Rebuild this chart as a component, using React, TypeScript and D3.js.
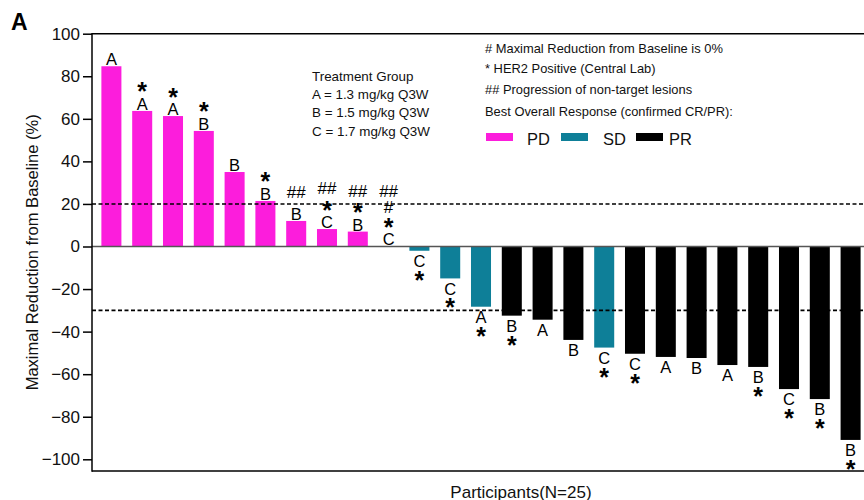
import React from 'react';
import * as d3 from 'd3';

// chart data
const participants = d3.range(1, 26).map((i) => `P${i}`);
const reduction = [
  84.7, 63.7, 61.3, 54.3, 35, 21.4, 12, 8.2, 7, 0, -2, -15, -28.3, -32.5, -34.4,
  -43.9, -47.5, -50.4, -51.9, -52.4, -55.7, -56.6, -67, -71.7, -90.9,
];
const response = [
  'PD', 'PD', 'PD', 'PD', 'PD', 'PD', 'PD', 'PD', 'PD', 'PD', 'SD', 'SD', 'SD',
  'PR', 'PR', 'PR', 'SD', 'PR', 'PR', 'PR', 'PR', 'PR', 'PR', 'PR', 'PR',
];
const group = [
  'A', 'A', 'A', 'B', 'B', 'B', 'B', 'C', 'B', 'C', 'C', 'C', 'A', 'B', 'A',
  'B', 'C', 'C', 'A', 'B', 'A', 'B', 'C', 'B', 'B',
];
const her2 = [0, 1, 1, 1, 0, 1, 0, 1, 1, 1, 1, 1, 1, 1, 0, 0, 1, 1, 0, 0, 0, 1, 1, 1, 1];
const zeroReduction = [0, 0, 0, 0, 0, 0, 0, 0, 0, 1, 0, 0, 0, 0, 0, 0, 0, 0, 0, 0, 0, 0, 0, 0, 0];
const nonTargetProgression = [0, 0, 0, 0, 0, 0, 1, 1, 1, 1, 0, 0, 0, 0, 0, 0, 0, 0, 0, 0, 0, 0, 0, 0, 0];
const yTicks = [100, 80, 60, 40, 20, 0, -20, -40, -60, -80, -100];
const thresholds = [20, -30];
const responseTypes = ['PD', 'SD', 'PR'];
const responseColors = ['#fc1ddc', '#0e7f98', '#000000'];
const treatmentLines = [
  'Treatment Group',
  'A = 1.3 mg/kg Q3W',
  'B = 1.5 mg/kg Q3W',
  'C = 1.7 mg/kg Q3W',
];
const noteLines = [
  '# Maximal Reduction from Baseline is 0%',
  '* HER2 Positive (Central Lab)',
  '## Progression of non-target lesions',
  'Best Overall Response (confirmed CR/PR):',
];

const W = 864;
const H = 500;
const font = 'Arial, "Liberation Sans", sans-serif';

export default function App() {
  const left = 92;
  const top = 33.7;
  const bottom = 471;
  const right = 866;

  const x = d3.scaleBand().domain(participants).range([96, right]).paddingInner(0.35).paddingOuter(0.175);
  const y = d3.scaleLinear().domain([-105.5, 100]).range([bottom, top]);
  const color = d3.scaleOrdinal<string, string>().domain(responseTypes).range(responseColors);

  const axisRef = React.useRef<SVGGElement>(null);
  React.useEffect(() => {
    const g = d3.select(axisRef.current);
    g.selectAll('*').remove();
    g.call(d3.axisLeft(y).tickValues(yTicks).tickSize(9).tickPadding(3).tickSizeOuter(0) as any);
    g.select('.domain').remove();
    g.selectAll('.tick line').attr('stroke', '#000').attr('stroke-width', 1.5);
    g.selectAll('.tick text')
      .attr('font-family', font)
      .attr('font-size', 17)
      .attr('fill', '#111');
  }, []);

  const letterSize = 16.5;
  const starSize = 25;
  const hashSize = 17;

  const labels = participants.map((p, i) => {
    const v = reduction[i];
    const cx = (x(p) as number) + x.bandwidth() / 2;
    const items: { t: string; cy: number; kind: string }[] = [];
    if (v >= 0) {
      let c = y(v) - 7;
      items.push({ t: group[i], cy: c, kind: 'letter' });
      if (her2[i]) {
        c -= 17.5;
        items.push({ t: '*', cy: c, kind: 'star' });
      }
      if (zeroReduction[i]) {
        c -= 15;
        items.push({ t: '#', cy: c, kind: 'hash' });
      }
      if (nonTargetProgression[i]) {
        c -= i === 6 ? 22 : 16.5;
        items.push({ t: '##', cy: c, kind: 'hash' });
      }
    } else {
      let c = y(v) + 10.5;
      items.push({ t: group[i], cy: c, kind: 'letter' });
      if (her2[i]) {
        c += 13.5;
        items.push({ t: '*', cy: c, kind: 'star' });
      }
    }
    return items.map((it, k) => {
      let size = letterSize;
      let base = it.cy + letterSize * 0.358;
      let weight = 'normal';
      if (it.kind === 'star') {
        size = starSize;
        base = it.cy + starSize * 0.56;
        weight = 'bold';
      } else if (it.kind === 'hash') {
        size = hashSize;
        base = it.cy + hashSize * 0.36;
      }
      return (
        <text
          key={`${p}-${k}`}
          x={cx}
          y={base}
          textAnchor="middle"
          fontSize={size}
          fontWeight={weight}
          fontFamily={font}
          fill="#000"
        >
          {it.t}
        </text>
      );
    });
  });

  const swatchX = [486, 561, 636];
  const swatchLabelX = [527, 603, 669];

  return (
    <svg
      width={W}
      height={H}
      style={{ position: 'absolute', left: 0, top: 0, background: '#fff' }}
      fontFamily={font}
    >
      <text x={11} y={30} fontSize={23} fontWeight="bold">A</text>

      {/* bars */}
      {participants.map((p, i) => {
        const v = reduction[i];
        return (
          <rect
            key={p}
            x={x(p)}
            y={Math.min(y(v), y(0))}
            width={x.bandwidth()}
            height={Math.abs(y(v) - y(0))}
            fill={color(response[i])}
          />
        );
      })}

      {/* zero line */}
      <line x1={left} x2={W} y1={y(0)} y2={y(0)} stroke="#555" strokeWidth={1.5} />

      {/* threshold lines */}
      {thresholds.map((t) => (
        <line
          key={t}
          x1={left}
          x2={W}
          y1={y(t)}
          y2={y(t)}
          stroke="#000"
          strokeWidth={1.6}
          strokeDasharray="4,2.5"
        />
      ))}

      {/* frame */}
      <line x1={left} x2={W} y1={top} y2={top} stroke="#000" strokeWidth={1.5} />
      <line x1={left} x2={W} y1={bottom} y2={bottom} stroke="#000" strokeWidth={1.5} />
      <line x1={left} x2={left} y1={top - 0.75} y2={bottom + 0.75} stroke="#000" strokeWidth={1.5} />
      <g ref={axisRef} transform={`translate(${left},0)`} />

      {labels}

      {/* axis titles */}
      <text
        transform={`translate(38,${(top + bottom) / 2}) rotate(-90)`}
        textAnchor="middle"
        fontSize={16.5}
        fill="#111"
      >
        Maximal Reduction from Baseline (%)
      </text>
      <text x={521} y={498} textAnchor="middle" fontSize={17} fill="#111">
        Participants(N=25)
      </text>

      {/* treatment group note */}
      {treatmentLines.map((t, i) => (
        <text key={t} x={312} y={80.7 + i * 18.3} fontSize={13.4} fill="#111">
          {t}
        </text>
      ))}

      {/* footnotes and response legend */}
      {noteLines.map((t, i) => (
        <text key={t} x={485} y={[52.5, 73, 94, 116][i]} fontSize={12.9} fill="#111">
          {t}
        </text>
      ))}
      {responseTypes.map((r, i) => (
        <g key={r}>
          <rect x={swatchX[i]} y={133} width={27} height={8} fill={color(r)} />
          <text x={swatchLabelX[i]} y={145} fontSize={16.5} fill="#111">
            {r}
          </text>
        </g>
      ))}
    </svg>
  );
}
